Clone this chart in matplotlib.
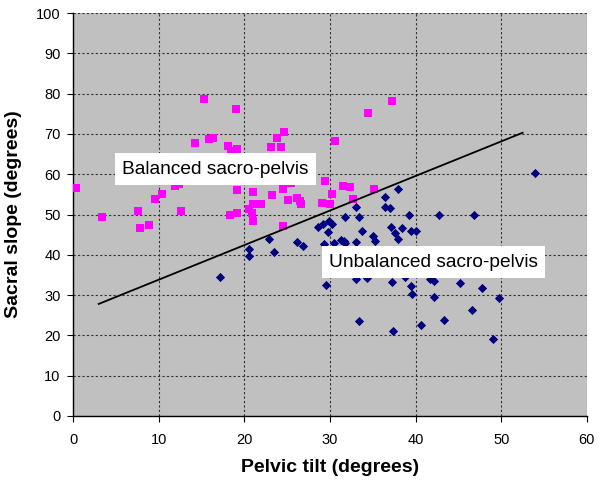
import matplotlib
matplotlib.use('Agg')
from matplotlib import pyplot as plt

# balanced sacro-pelvis (magenta squares)
bal_tilt = [0.3, 3.4, 7.6, 7.8, 8.9, 9.6, 10.4, 11.9, 12.4, 12.6,
            14.2, 15.3, 15.9, 16.3, 18.1, 18.5, 19.1, 19.0, 19.2, 18.3,
            19.1, 20.5, 20.9, 21.0, 21.0, 21.0, 21.9, 23.2, 23.1, 23.8,
            24.6, 24.3, 24.5, 25.4, 25.1, 26.1, 26.5, 26.6, 24.5, 29.4,
            29.1, 30.0, 30.3, 30.6, 31.5, 32.4, 32.7, 34.5, 35.2, 37.3]
bal_slope = [56.5, 49.4, 50.9, 46.6, 47.5, 53.8, 55.0, 57.2, 57.6, 50.9,
             67.8, 78.7, 68.8, 69.1, 66.9, 65.8, 66.3, 76.2, 56.1, 49.9,
             50.5, 51.3, 50.5, 48.4, 55.6, 52.7, 52.7, 54.8, 66.7, 68.9,
             70.5, 66.8, 56.4, 57.9, 53.5, 54.0, 53.3, 52.5, 47.1, 58.2,
             52.8, 52.7, 55.0, 68.2, 57.1, 56.9, 53.8, 75.1, 56.4, 78.3]

# unbalanced sacro-pelvis (navy diamonds)
unb_tilt = [17.2, 20.5, 20.5, 22.9, 23.5, 26.1, 26.8, 28.6, 29.2, 29.8,
            29.9, 30.2, 29.3, 29.6, 30.5, 31.3, 31.6, 31.8, 31.8, 33.1,
            33.4, 33.8, 33.1, 33.1, 34.3, 35.0, 35.3, 36.4, 36.4, 37.0,
            37.1, 37.6, 38.0, 38.0, 38.4, 39.2, 39.5, 40.1, 42.7, 46.8,
            54.0, 37.3, 38.8, 39.5, 39.6, 41.7, 42.2, 42.1, 45.2, 47.8,
            49.7, 46.6, 33.4, 37.4, 40.6, 43.3, 49.1]
unb_slope = [34.6, 41.4, 39.6, 44.0, 40.7, 43.2, 42.1, 46.8, 47.7, 45.6,
             48.4, 47.6, 42.6, 32.5, 43.0, 43.7, 43.4, 42.9, 49.4, 51.9,
             49.5, 45.9, 43.2, 34.0, 34.2, 44.6, 43.4, 54.4, 51.9, 51.7,
             47.0, 45.3, 43.8, 56.4, 46.6, 49.8, 45.9, 45.9, 49.9, 49.8,
             60.2, 33.2, 34.6, 32.3, 30.2, 34.1, 33.5, 29.6, 32.9, 31.8,
             29.2, 26.3, 23.5, 21.0, 22.5, 23.7, 19.0]

# separating line
line_tilt = [3.0, 52.5]
line_slope = [27.8, 70.3]

plt.rcParams['font.family'] = ['Liberation Sans', 'DejaVu Sans']

fig = plt.figure(figsize=(6, 4.87), dpi=100)
ax = fig.add_axes([0.1217, 0.146, 0.8563, 0.827])
ax.set_facecolor('#c0c0c0')

ax.scatter(unb_tilt, unb_slope, marker='D', s=22, color='#000080', linewidths=0, zorder=3)
ax.scatter(bal_tilt, bal_slope, marker='s', s=28, color='#ff00ff', linewidths=0, zorder=3)
ax.plot(line_tilt, line_slope, color='black', lw=1.3, zorder=4)

box = dict(boxstyle='square,pad=0.38', fc='white', ec='none')
ax.text(16.6, 61.3, 'Balanced sacro-pelvis', fontsize=13.8, ha='center', va='center',
        bbox=box, zorder=5)
ax.text(42.1, 38.2, 'Unbalanced sacro-pelvis', fontsize=13.8, ha='center', va='center',
        bbox=box, zorder=5)

ax.set_xlim(0, 60)
ax.set_ylim(0, 100)
ax.set_xticks(range(0, 61, 10))
ax.set_yticks(range(0, 101, 10))
ax.grid(True, color='#303030', linestyle=(0, (2, 2)), lw=0.8)
ax.set_axisbelow(True)
for side in ['top', 'right']:
    ax.spines[side].set_visible(False)
for side in ['left', 'bottom']:
    ax.spines[side].set_color('black')
    ax.spines[side].set_linewidth(1)
ax.tick_params(axis='both', direction='out', length=4, labelsize=10.5, colors='black')
ax.tick_params(axis='x', pad=8)
ax.tick_params(axis='y', pad=5)

ax.set_xlabel('Pelvic tilt (degrees)', fontsize=14, fontweight='bold', labelpad=9)
ax.set_ylabel('Sacral slope (degrees)', fontsize=14, fontweight='bold', labelpad=10)

fig.savefig('out.png', dpi=100)
